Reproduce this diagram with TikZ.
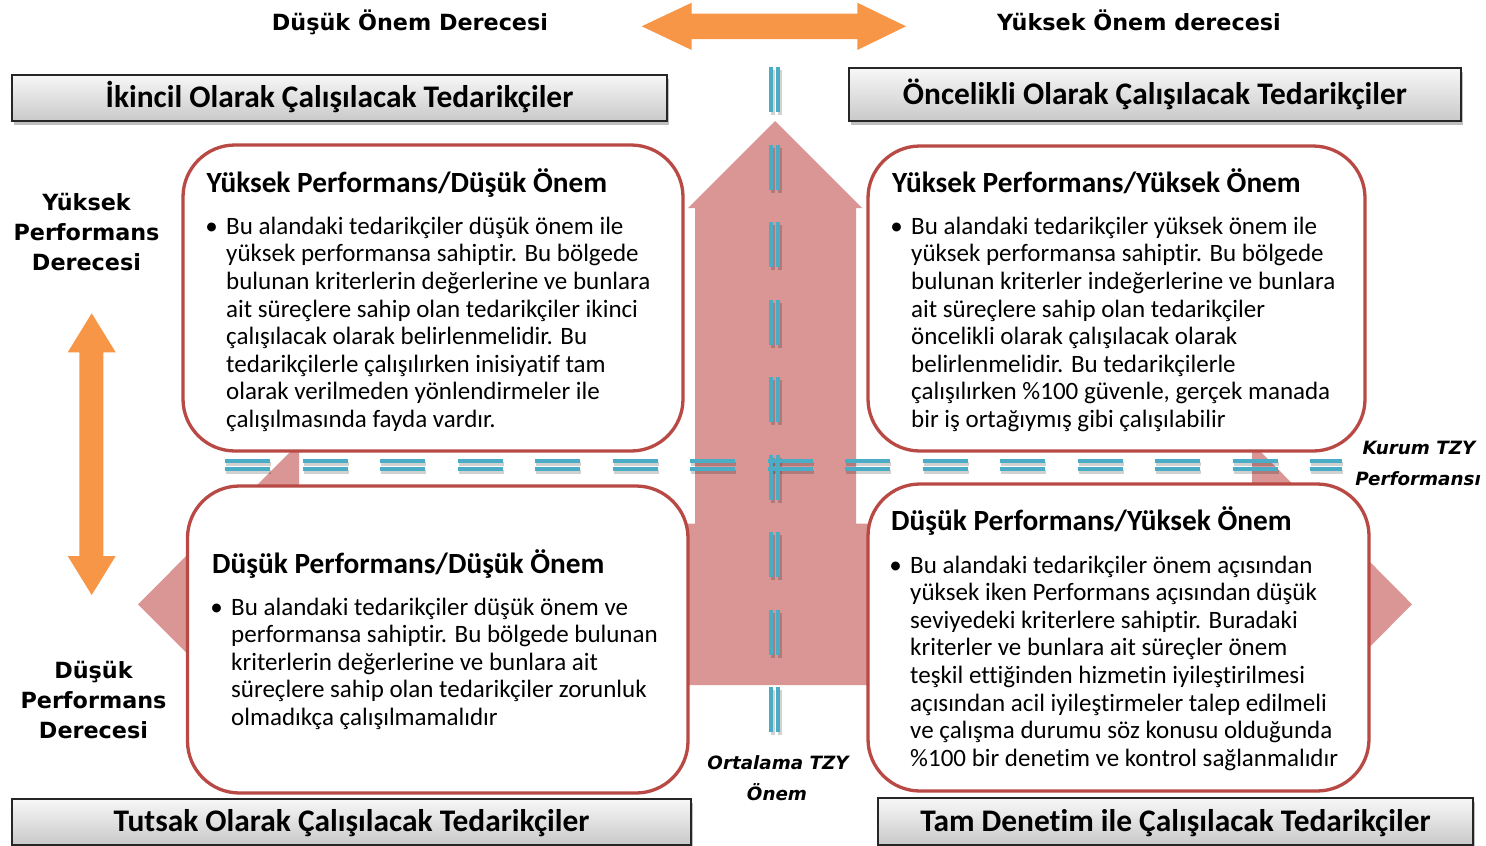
\documentclass[tikz,border=0pt]{standalone}
\usepackage{fontspec}
\setmainfont{Carlito}[Ligatures=NoCommon]
\newfontfamily\dejavu{DejaVu Sans}
\usetikzlibrary{shadows}
\definecolor{pinkarrow}{RGB}{217,150,148}
\definecolor{orangearrow}{RGB}{247,150,70}
\definecolor{boxedge}{RGB}{185,73,69}
\definecolor{dashblue}{RGB}{75,172,198}

% one body line per node, baselines 27.6pt apart
\newcommand\bodylines[4]{%
  \foreach \tline [count=\k from 0] in {#3} {
    \node[bodyline, name=#4-\k] at ({#1},{#2+27.6*\k}) {\tline};
  }}

\begin{document}
\begin{tikzpicture}[x=1pt,y=-1pt,
  banner/.style={draw=black!85, line width=1.8pt, top color=gray!6, bottom color=gray!42,
    drop shadow={shadow xshift=2pt, shadow yshift=-3.5pt, fill=black, opacity=0.25},
    inner sep=0pt, font=\bfseries\fontsize{31.4}{31}\selectfont, text height=24.8pt, text depth=5pt},
  quadbox/.style={draw=boxedge, line width=3.3pt, fill=white, rounded corners=52pt},
  boxtitle/.style={anchor=base west, inner sep=0pt, font=\bfseries\fontsize{29.3}{29}\selectfont},
  bodyline/.style={anchor=base west, inner sep=0pt, font=\fontsize{25}{27.6}\selectfont},
  bulletmark/.style={anchor=base, inner sep=0pt, font=\fontsize{25}{27.6}\selectfont},
  axislabel/.style={anchor=base, inner sep=0pt, font=\dejavu\bfseries\fontsize{22.3}{30}\selectfont},
  axisref/.style={anchor=base, inner sep=0pt, font=\dejavu\bfseries\itshape\fontsize{18.3}{31}\selectfont},
  dashpair/.style={draw=dashblue, line width=4pt, dash pattern=on 45pt off 32.5pt},
  dashshadow/.style={draw=black, opacity=0.18, line width=4pt, dash pattern=on 45pt off 32.5pt},
]
\useasboundingbox (0,0) rectangle (1486,846);

% three-headed background arrow
\fill[pinkarrow] (775,121) -- (862,208) -- (856,208) -- (856,523.6) -- (1252,523.6)
  -- (1252,443) -- (1412,604.3) -- (1252,765.6) -- (1252,685) -- (299,685)
  -- (299,765.6) -- (138,604.3) -- (299,443) -- (299,523.6) -- (695,523.6)
  -- (695,208) -- (688,208) -- cycle;

% double dashed reference lines with soft shadows
\foreach \xx in {771,778} {
  \draw[dashshadow] (\xx+1.5,70) -- (\xx+1.5,735);
}
\foreach \yy in {461,469} {
  \draw[dashshadow] (226,\yy+3) -- (1343,\yy+3);
}
\foreach \xx in {771,778} {
  \draw[dashpair] (\xx,67) -- (\xx,732);
}
\foreach \yy in {461,469} {
  \draw[dashpair] (225,\yy) -- (1342,\yy);
}

% orange scale arrows
\fill[orangearrow] (91.7,313.3) -- (115.7,352.3) -- (103.3,352.3) -- (103.3,556)
  -- (115.7,556) -- (91.7,595) -- (67.7,556) -- (79.3,556) -- (79.3,352.3)
  -- (67.7,352.3) -- cycle;
\fill[orangearrow] (641.7,26.3) -- (691.7,2.7) -- (691.7,13.6) -- (857.3,13.6)
  -- (857.3,2.7) -- (906,26.3) -- (857.3,50) -- (857.3,39) -- (691.7,39)
  -- (691.7,50) -- cycle;

% quadrant boxes
\draw[quadbox] (183,145) rectangle (683,451);
\draw[quadbox] (868,146) rectangle (1365,451);
\draw[quadbox] (187.5,486) rectangle (688,793);
\draw[quadbox] (868,484) rectangle (1369,791);

% category banners
\node[banner, minimum width=655pt, minimum height=46pt] (b1) at (339.5,98) {İkincil Olarak Çalışılacak Tedarikçiler};
\node[banner, minimum width=612pt, minimum height=53pt] (b2) at (1155,94.5) {Öncelikli Olarak Çalışılacak Tedarikçiler};
\node[banner, minimum width=679pt, minimum height=46pt] (b3) at (351.5,822) {Tutsak Olarak Çalışılacak Tedarikçiler};
\node[banner, minimum width=595pt, minimum height=47pt] (b4) at (1175.5,821.5) {Tam Denetim ile Çalışılacak Tedarikçiler};

% axis captions
\node[axislabel] (lowimp) at (410,30) {Düşük Önem Derecesi};
\node[axislabel] (highimp) at (1139,30) {Yüksek Önem derecesi};
\node[axislabel] (hp1) at (86.5,210.5) {Yüksek};
\node[axislabel] (hp2) at (86.5,240.5) {Performans};
\node[axislabel] (hp3) at (86.5,270.5) {Derecesi};
\node[axislabel] (lp1) at (93.5,678) {Düşük};
\node[axislabel] (lp2) at (93.5,708) {Performans};
\node[axislabel] (lp3) at (93.5,738) {Derecesi};
\node[axisref] (kr1) at (1419,454) {Kurum TZY};
\node[axisref] (kr2) at (1418,485) {Performansı};
\node[axisref] (or1) at (778,769) {Ortalama TZY};
\node[axisref] (or2) at (777,800) {Önem};

% top-left quadrant
\node[boxtitle] (t1) at (206.5,192) {Yüksek Performans/Düşük Önem};
\node[bulletmark] (d1) at (211.7,234.3) {•};
\bodylines{226}{234.3}{{Bu alandaki tedarikçiler düşük önem ile},
  {yüksek performansa sahiptir. Bu bölgede},
  {bulunan kriterlerin değerlerine ve bunlara},
  {ait süreçlere sahip olan tedarikçiler ikinci},
  {çalışılacak olarak belirlenmelidir. Bu},
  {tedarikçilerle çalışılırken inisiyatif tam},
  {olarak verilmeden yönlendirmeler ile},
  {çalışılmasında fayda vardır.}}{q1}

% top-right quadrant
\node[boxtitle] (t2) at (892,192) {Yüksek Performans/Yüksek Önem};
\node[bulletmark] (d2) at (896.7,234.3) {•};
\bodylines{911}{234.3}{{Bu alandaki tedarikçiler yüksek önem ile},
  {yüksek performansa sahiptir. Bu bölgede},
  {bulunan kriterler indeğerlerine ve bunlara},
  {ait süreçlere sahip olan tedarikçiler},
  {öncelikli olarak çalışılacak olarak},
  {belirlenmelidir. Bu tedarikçilerle},
  {çalışılırken \%100 güvenle, gerçek manada},
  {bir iş ortağıymış gibi çalışılabilir}}{q2}

% bottom-left quadrant
\node[boxtitle] (t3) at (212,573) {Düşük Performans/Düşük Önem};
\node[bulletmark] (d3) at (216.7,615) {•};
\bodylines{231}{615}{{Bu alandaki tedarikçiler düşük önem ve},
  {performansa sahiptir. Bu bölgede bulunan},
  {kriterlerin değerlerine ve bunlara ait},
  {süreçlere sahip olan tedarikçiler zorunluk},
  {olmadıkça çalışılmamalıdır}}{q3}

% bottom-right quadrant
\node[boxtitle] (t4) at (891,530) {Düşük Performans/Yüksek Önem};
\node[bulletmark] (d4) at (895.7,573) {•};
\bodylines{910}{573}{{Bu alandaki tedarikçiler önem açısından},
  {yüksek iken Performans açısından düşük},
  {seviyedeki kriterlere sahiptir. Buradaki},
  {kriterler ve bunlara ait süreçler önem},
  {teşkil ettiğinden hizmetin iyileştirilmesi},
  {açısından acil iyileştirmeler talep edilmeli},
  {ve çalışma durumu söz konusu olduğunda},
  {\%100 bir denetim ve kontrol sağlanmalıdır}}{q4}
\end{tikzpicture}
\end{document}
